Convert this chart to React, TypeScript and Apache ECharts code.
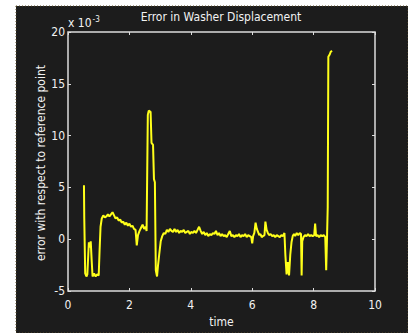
import React, { useEffect, useRef } from "react";
import * as echarts from "echarts";

const title = "Error in Washer Displacement";
const xName = "time";
const yName = "error with respect to reference point";
const xTicks = [0, 2, 4, 6, 8, 10];
const yTicks = [-5, 0, 5, 10, 15, 20];

const times = [
  0.52, 0.53, 0.56, 0.6, 0.63, 0.66, 0.68, 0.71, 0.74, 0.77, 0.8, 0.85, 0.9, 0.95, 1.0, 1.03, 1.06,
  1.1, 1.15, 1.2, 1.25, 1.3, 1.35, 1.4, 1.45, 1.5, 1.55, 1.6, 1.65, 1.7, 1.75, 1.8, 1.85, 1.9, 1.95,
  2.0, 2.05, 2.1, 2.15, 2.2, 2.24, 2.28, 2.33, 2.38, 2.43, 2.48, 2.53, 2.56, 2.6, 2.63, 2.69, 2.72,
  2.77, 2.8, 2.83, 2.86, 2.9, 2.93, 2.97, 3.02, 3.07, 3.12, 3.17, 3.22, 3.27, 3.32, 3.37, 3.42, 3.47,
  3.52, 3.57, 3.62, 3.67, 3.72, 3.77, 3.82, 3.87, 3.92, 3.97, 4.02, 4.07, 4.12, 4.17, 4.22, 4.27,
  4.32, 4.37, 4.42, 4.47, 4.52, 4.57, 4.62, 4.67, 4.72, 4.77, 4.82, 4.87, 4.92, 4.97, 5.02, 5.07,
  5.12, 5.17, 5.22, 5.27, 5.32, 5.37, 5.42, 5.47, 5.52, 5.57, 5.62, 5.67, 5.72, 5.77, 5.82, 5.87,
  5.92, 5.97, 6.0, 6.03, 6.07, 6.11, 6.15, 6.19, 6.23, 6.27, 6.31, 6.35, 6.4, 6.43, 6.47, 6.51, 6.55,
  6.6, 6.65, 6.7, 6.75, 6.8, 6.85, 6.9, 6.95, 7.0, 7.05, 7.08, 7.12, 7.16, 7.2, 7.24, 7.28, 7.32,
  7.36, 7.4, 7.45, 7.5, 7.55, 7.59, 7.61, 7.63, 7.67, 7.72, 7.77, 7.82, 7.87, 7.92, 7.97, 8.02, 8.05,
  8.08, 8.13, 8.18, 8.23, 8.28, 8.33, 8.38, 8.41, 8.44, 8.46, 8.48, 8.52, 8.56, 8.6,
];

const errors = [
  5.2, 2.0, -3.3, -3.6, -3.4, -1.5, -0.3, -0.8, -0.2, -2.0, -3.6, -3.3, -3.6, -3.4, -3.5, -1.0, 1.2,
  2.0, 2.3, 2.1, 2.2, 2.4, 2.2, 2.4, 2.6, 2.3, 2.0, 2.1, 1.8, 1.9, 1.6, 1.7, 1.4, 1.6, 1.3,
  1.5, 1.2, 1.3, 1.0, 0.9, -0.6, 0.4, 0.8, 1.1, 1.4, 1.0, 1.2, 0.8, 12.0, 12.4, 12.3, 9.3,
  9.1, 5.8, 5.5, -3.0, -3.6, -2.6, -1.5, -0.2, 0.3, 0.6, 0.5, 0.9, 0.7, 1.0, 0.8, 0.7, 1.0,
  0.7, 0.9, 0.6, 0.8, 0.7, 0.9, 0.6, 0.7, 0.8, 0.5, 0.7, 0.6, 0.8, 0.6, 0.9, 1.2,
  0.8, 0.5, 0.7, 0.4, 0.6, 0.3, 0.5, 0.4, 0.6, 0.5, 0.8, 0.4, 0.6, 0.3, 0.5, 0.3,
  0.4, 0.2, 0.5, 0.8, 0.3, 0.4, 0.2, 0.4, 0.3, 0.5, 0.2, 0.4, 0.3, 0.5, 0.2, 0.4,
  0.3, 0.2, -0.4, 0.3, 0.6, 1.6, 1.0, 0.7, 0.4, 0.5, 0.2, 0.3, 0.4, 1.7, 0.9, 0.6, 0.4,
  0.5, 0.3, 0.4, 0.2, 0.4, 0.3, 0.2, 0.4, 0.3, 0.6, -1.5, -3.4, -2.2, -3.5, -1.5, -0.3, 0.3,
  0.5, 0.3, 0.6, 0.4, 0.6, 0.5, -3.5, -0.2, 0.2, 0.4, 0.3, 0.5, 0.3, 0.4, 0.3, 0.4, 1.5,
  0.3, 0.4, 0.2, 0.4, 0.3, 0.4, 0.2, -3.0, 0.5, 3.1, 17.6, 17.8, 18.1, 18.2,
];

const FONT = "'Liberation Sans Narrow', 'DejaVu Sans Condensed', 'Liberation Sans', sans-serif";
const TXT = "#f2f2f2";
const FRAME = "#dcdcdc";

export default function App() {
  const ref = useRef<HTMLDivElement>(null);
  useEffect(() => {
    if (!ref.current) return;
    const chart = echarts.init(ref.current, undefined, { renderer: "svg" });
    const data = times.map((t, i) => [t, errors[i]]);
    const axisBase = {
      type: "value" as const,
      axisLine: { show: false, onZero: false },
      splitLine: { show: false },
      axisTick: { show: true, inside: true, length: 3, lineStyle: { color: FRAME, width: 1 } },
    };
    chart.setOption({
      animation: false,
      backgroundColor: "#ffffff",
      graphic: [
        {
          type: "rect",
          z: -10,
          silent: true,
          shape: { x: 16, y: 6, width: 392, height: 327 },
          style: { fill: "#1c1c1c", stroke: "#5a4d28", lineWidth: 1, lineDash: [1, 2] },
        },
        {
          type: "text",
          x: 221,
          y: 17,
          style: { text: title, fill: TXT, font: `12px ${FONT}`, align: "center", verticalAlign: "middle" },
        },
        {
          type: "text",
          x: 41,
          y: 163,
          rotation: Math.PI / 2,
          style: { text: yName, fill: TXT, font: `12px ${FONT}`, align: "center", verticalAlign: "middle" },
        },
        {
          type: "text",
          x: 68,
          y: 23,
          style: {
            text: "{a|x 10}{b|-3}",
            verticalAlign: "middle",
            rich: {
              a: { fill: TXT, font: `12px ${FONT}` },
              b: { fill: TXT, font: `8px ${FONT}`, padding: [0, 0, 8, 1] },
            },
          },
        },
      ],
      grid: {
        left: 68,
        top: 32,
        width: 307,
        height: 266,
        show: true,
        backgroundColor: "transparent",
        borderColor: FRAME,
        borderWidth: 1.5,
      },
      xAxis: [
        {
          ...axisBase,
          min: xTicks[0],
          max: xTicks[xTicks.length - 1],
          interval: 2,
          position: "bottom",
          name: xName,
          nameLocation: "middle",
          nameGap: 25,
          nameTextStyle: { color: TXT, fontSize: 12, fontFamily: FONT },
          axisLabel: { color: TXT, fontSize: 12, fontFamily: FONT, margin: 8 },
        },
        {
          ...axisBase,
          min: xTicks[0],
          max: xTicks[xTicks.length - 1],
          interval: 2,
          position: "top",
          axisLabel: { show: false },
        },
      ],
      yAxis: [
        {
          ...axisBase,
          min: yTicks[0],
          max: yTicks[yTicks.length - 1],
          interval: 5,
          position: "left",
          axisLabel: { color: TXT, fontSize: 12, fontFamily: FONT, margin: 3 },
        },
        {
          ...axisBase,
          min: yTicks[0],
          max: yTicks[yTicks.length - 1],
          interval: 5,
          position: "right",
          axisLabel: { show: false },
        },
      ],
      series: [
        {
          type: "line",
          data,
          showSymbol: false,
          symbol: "none",
          lineStyle: { color: "#ffff1a", width: 2 },
          xAxisIndex: 0,
          yAxisIndex: 0,
        },
      ],
    });
    return () => chart.dispose();
  }, []);
  return (
    <div
      ref={ref}
      style={{ position: "fixed", left: 0, top: 0, width: 408, height: 333 }}
    />
  );
}
